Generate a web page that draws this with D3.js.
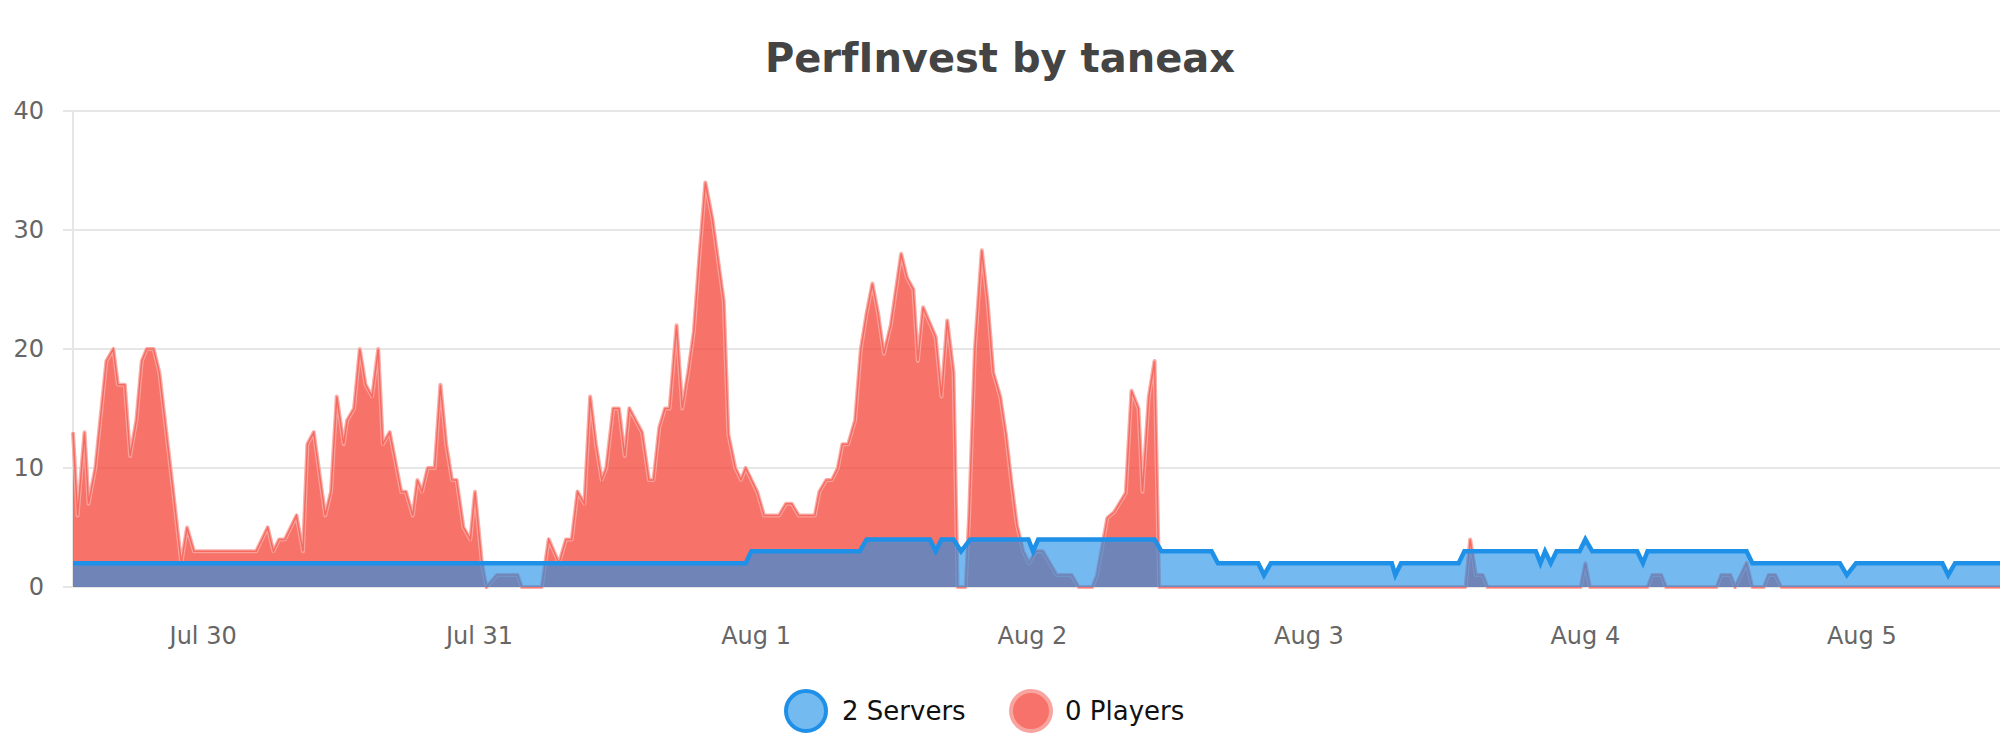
<!DOCTYPE html>
<html><head><meta charset="utf-8">
<script src="https://cdn.jsdelivr.net/npm/d3@7"></script>
<style>body{margin:0;background:#fff;font-family:"DejaVu Sans",sans-serif}</style>
</head><body><svg id="c" width="2000" height="750"></svg>
<script>
const startTime = new Date(2024,6,29,12,42);
const playersHours = [0,0.4,1.0,1.35,1.94,2.9,3.5,3.9,4.5,4.96,5.5,5.97,6.4,7.0,7.5,8.1,8.7,9.4,9.9,10.5,15.9,16.9,17.4,17.9,18.4,19.4,19.97,20.35,20.9,21.9,22.4,22.9,23.5,23.8,24.4,24.9,25.4,25.97,26.5,26.9,27.5,28.5,28.9,29.5,29.9,30.3,30.8,31.4,31.9,32.4,32.9,33.3,33.9,34.5,34.9,35.5,35.9,36.8,38.6,38.96,40.7,41.3,42.2,42.8,43.3,43.8,44.4,44.9,45.4,45.9,46.3,46.9,47.4,47.9,48.3,49.4,50.0,50.4,50.9,51.4,51.8,52.4,52.9,53.4,53.9,54.4,54.9,55.5,56.5,56.9,57.5,58.0,58.4,59.4,60.0,61.3,61.9,62.4,63.0,64.4,64.8,65.4,65.9,66.4,66.8,67.3,67.9,68.4,68.9,69.4,69.9,70.4,71.0,71.9,72.4,72.96,73.35,73.8,74.9,75.4,75.9,76.45,76.8,77.5,77.8,78.3,78.9,79.4,79.9,80.5,81.0,81.5,81.95,82.5,83.0,83.6,84.2,85.4,86.7,87.3,88.5,88.9,89.8,90.4,91.4,91.9,92.5,92.85,93.4,93.9,94.3,120.9,121.3,121.8,122.4,122.8,130.9,131.3,131.7,136.7,137.1,137.9,138.3,142.7,143.1,143.9,144.3,145.3,145.8,146.8,147.2,147.8,148.3,167.3];
const playersValues = [13,6,13,7,10,19,20,17,17,11,14,19,20,20,18,13,8,2,5,3,3,5,3,4,4,6,3,12,13,6,8,16,12,14,15,20,17,16,20,12,13,8,8,6,9,8,10,10,17,12,9,9,5,4,8,2,0,1,1,0,0,4,2,4,4,8,7,16,12,9,10,15,15,11,15,13,9,9,13.4,15,15,22,15,18,21.5,28,34,31,24,12.8,10,9,10,8,6,6,7,7,6,6,8,9,9,10,12,12,14,20,23,25.5,23,19.6,22,28,26,25,19,23.5,21,16,22.4,18,0,0,6,20,28.3,24,18,16,12.8,8.6,5.2,3,2,3,3,1,1,0,0,1,5.8,6.3,7.9,16.5,15,8,16,19,0,0,4,1,1,0,0,2,0,0,1,1,0,0,1,1,0,2,0,0,1,1,0,0];
const serversHours = [0,58.4,58.9,68.3,68.9,74.4,74.9,75.4,76.45,77.1,77.9,82.95,83.35,83.8,93.9,94.5,98.85,99.4,102.9,103.4,104.0,114.5,114.8,115.3,120.3,120.8,127,127.4,127.8,128.3,128.8,130.8,131.3,131.9,135.8,136.3,136.7,145.3,145.8,153.4,154,154.8,162.3,162.8,163.4,167.3];
const serversValues = [2,2,3,3,4,4,3,4,4,3,4,4,3,4,4,3,3,2,2,1,2,2,1,2,2,3,3,2,3,2,3,3,4,3,3,2,3,3,2,2,1,2,2,1,2,2];
const yTicks = [0,10,20,30,40];
const seriesNames = ["2 Servers","0 Players"];

const toDate = h => new Date(startTime.getTime()+h*3600e3);
const players = playersHours.map((h,i)=>({t:toDate(h),v:playersValues[i]}));
const servers = serversHours.map((h,i)=>({t:toDate(h),v:serversValues[i]}));

const svg = d3.select("#c");
const L=73,R=2000,T=111,B=587;
const x = d3.scaleTime().domain([players[0].t, players[players.length-1].t]).range([L,R]);
const y = d3.scaleLinear().domain([0,40]).range([B,T]);

svg.append("text").attr("x",1000).attr("y",72).attr("text-anchor","middle")
  .attr("font-size",40).attr("font-weight","bold").attr("fill","#444").text("PerfInvest by taneax");

const gy = svg.append("g");
yTicks.forEach(t=>{
  gy.append("line").attr("x1",L-10).attr("x2",R).attr("y1",y(t)).attr("y2",y(t)).attr("stroke","#e6e6e6").attr("stroke-width",2);
  gy.append("text").attr("x",44).attr("y",y(t)+8).attr("text-anchor","end").attr("font-size",24).attr("fill","#666").text(t);
});
svg.append("line").attr("x1",L).attr("x2",L).attr("y1",T).attr("y2",B).attr("stroke","#e6e6e6").attr("stroke-width",2);

const xt = x.ticks(d3.timeDay.every(1));
svg.append("g").selectAll("text").data(xt).join("text")
  .attr("x",d=>x(d)).attr("y",644).attr("text-anchor","middle").attr("font-size",24).attr("fill","#666")
  .text(d=>d3.timeFormat("%b %-d")(d));

const area = d3.area().x(d=>x(d.t)).y0(y(0)).y1(d=>y(d.v));
const line = d3.line().x(d=>x(d.t)).y(d=>y(d.v));
svg.append("path").datum(players).attr("d",area).attr("fill","rgba(244,67,54,0.75)");
svg.append("path").datum(players).attr("d",line).attr("fill","none").attr("stroke","rgba(248,165,160,0.9)").attr("stroke-width",4).attr("stroke-linejoin","round");
svg.append("path").datum(players).attr("d",line).attr("fill","none").attr("stroke","rgba(244,67,54,0.6)").attr("stroke-width",1.5);
svg.append("path").datum(servers).attr("d",area).attr("fill","rgba(30,144,232,0.62)");
svg.append("path").datum(servers).attr("d",line).attr("fill","none").attr("stroke","#1e90e8").attr("stroke-width",4.5);

const lg = [{cx:806,tx:842,fill:"#73baf1",stroke:"#1e90e8"},{cx:1031,tx:1065,fill:"#f7726a",stroke:"#f8a5a0"}];
lg.forEach((d,i)=>{
  svg.append("circle").attr("cx",d.cx).attr("cy",711).attr("r",20).attr("fill",d.fill).attr("stroke",d.stroke).attr("stroke-width",4);
  svg.append("text").attr("x",d.tx).attr("y",720).attr("font-size",26).attr("fill","#111").text(seriesNames[i]);
});
</script></body></html>
